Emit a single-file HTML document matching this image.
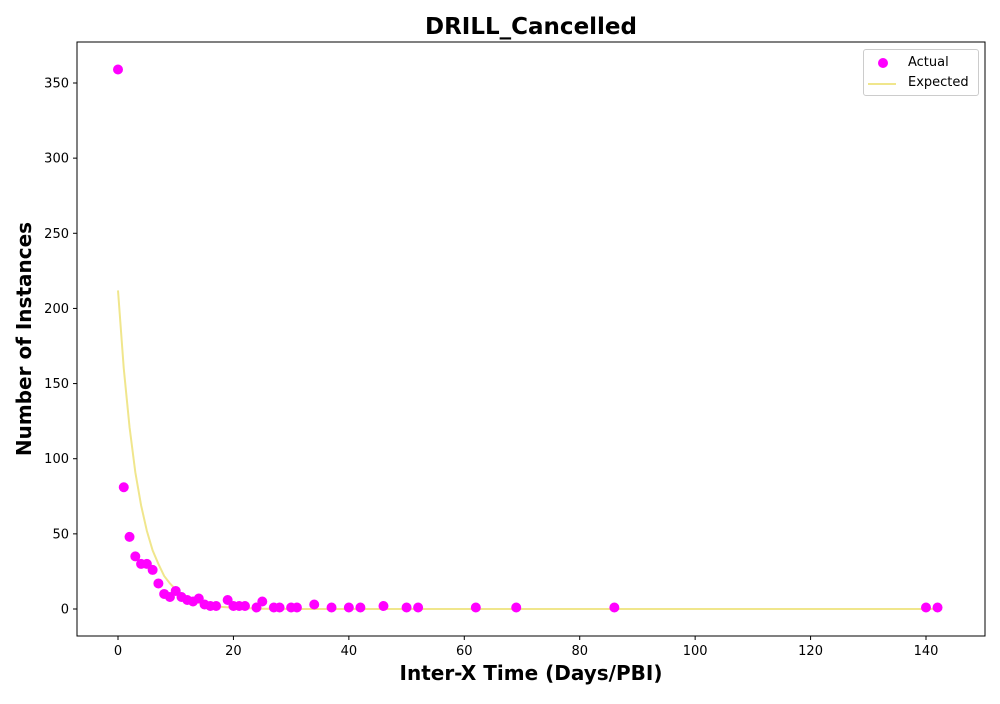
<!DOCTYPE html>
<html><head><meta charset="utf-8"><style>
body{margin:0;background:#fff;font-family:"DejaVu Sans","Liberation Sans",sans-serif}
</style></head><body>
<svg id="c" width="1000" height="700" xmlns="http://www.w3.org/2000/svg" style="font-family:'DejaVu Sans',sans-serif"></svg>
<script>
const actualX=[0,1,2,3,4,5,6,7,8,9,10,11,12,13,14,15,16,17,19,20,21,22,24,25,27,28,30,31,34,37,40,42,46,50,52,62,69,86,140,142];
const actualY=[359,81,48,35,30,30,26,17,10,8,12,8,6,5,7,3,2,2,6,2,2,2,1,5,1,1,1,1,3,1,1,1,2,1,1,1,1,1,1,1];
const expX=[0,1,2,3,4,5,6,7,8,9,10,11,12,13,14,15,16,18,20,25,30,40,60,100,142];
const expY=[212,160,121,91,69,52,39,30,22,17,13,9.7,7.4,5.6,4.2,3.2,2.4,1.4,0.8,0.2,0,0,0,0,0];
const xTicks=[0,20,40,60,80,100,120,140];
const yTicks=[0,50,100,150,200,250,300,350];
const svg=document.getElementById('c');const NS='http://www.w3.org/2000/svg';
const L=77,R=985,T=42,B=636;
const sx=v=>118+v*(926-118)/140, sy=v=>609-v*(609-83)/350;
function mk(t,a,p){const e=document.createElementNS(NS,t);for(const k in a)e.setAttribute(k,a[k]);(p||svg).appendChild(e);return e;}
const frame=mk('rect',{x:L,y:T,width:R-L,height:B-T,fill:'none',stroke:'#000','stroke-width':1});


xTicks.forEach(v=>{const x=sx(v);mk('line',{x1:x,x2:x,y1:B,y2:B+4,stroke:'#000'});
 const t=mk('text',{x:x,y:B+19,'text-anchor':'middle','font-size':13});t.textContent=v;
 
 });
yTicks.forEach(v=>{const y=sy(v);mk('line',{x1:L-4,x2:L,y1:y,y2:y,stroke:'#000'});
 const t=mk('text',{x:L-8,y:y+4.5,'text-anchor':'end','font-size':13});t.textContent=v;
 
 });
const line=mk('polyline',{points:expX.map((x,i)=>sx(x)+','+sy(expY[i])).join(' '),fill:'none',stroke:'#f0e68c','stroke-width':2});


actualX.forEach((x,i)=>{const c=mk('circle',{cx:sx(x),cy:sy(actualY[i]),r:5,fill:'#ff00ff'});
 
 });
</script>
<div style="position:absolute;left:0;top:0;width:1000px;height:700px;pointer-events:none">
<div style="position:absolute;top:14px;left:77px;width:908px;text-align:center;font-size:23px;font-weight:bold">DRILL_Cancelled</div>
<div style="position:absolute;top:661px;left:77px;width:908px;text-align:center;font-size:20px;font-weight:bold">Inter-X Time (Days/PBI)</div>
<div style="position:absolute;left:24px;top:339px;transform:translate(-50%,-50%) rotate(-90deg);white-space:nowrap;font-size:20px;font-weight:bold">Number of Instances</div>
<div style="position:absolute;left:863px;top:49px;width:114px;height:45px;border:1px solid #ccc;border-radius:3px;background:#fff;font-size:13px">
 <div style="position:absolute;left:14px;top:5px"><span style="position:absolute;left:0;top:3px;width:10px;height:10px;border-radius:50%;background:#f0f"></span><span style="position:absolute;left:30px;top:0">Actual</span></div>
 <div style="position:absolute;left:4px;top:25px"><span style="position:absolute;left:0;top:8px;width:28px;height:2px;background:#f0e68c"></span><span style="position:absolute;left:40px;top:0">Expected</span></div>
</div>
</div>
</body></html>
